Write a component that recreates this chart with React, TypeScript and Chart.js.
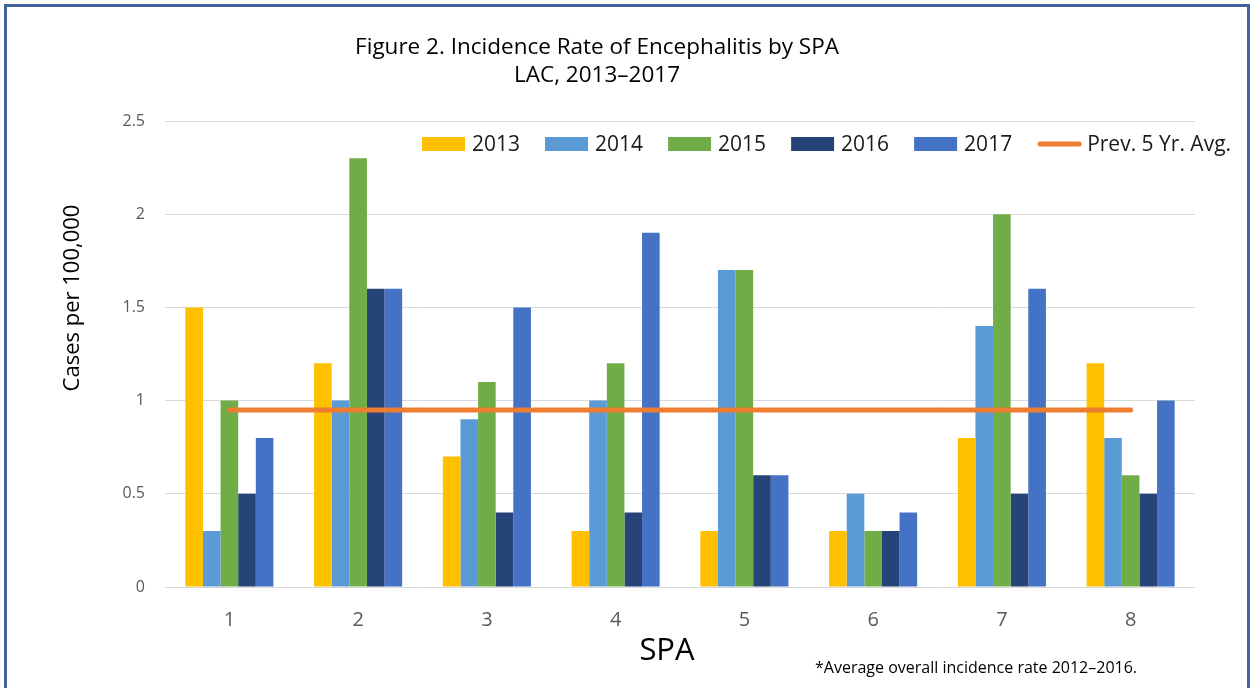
import React, { useEffect, useRef } from "react";
import { Chart, registerables } from "chart.js";

Chart.register(...registerables);

const categories = ["1", "2", "3", "4", "5", "6", "7", "8"];
const yTickLabels = ["0", "0.5", "1", "1.5", "2", "2.5"];
const series2013 = [1.5, 1.2, 0.7, 0.3, 0.3, 0.3, 0.8, 1.2];
const series2014 = [0.3, 1.0, 0.9, 1.0, 1.7, 0.5, 1.4, 0.8];
const series2015 = [1.0, 2.3, 1.1, 1.2, 1.7, 0.3, 2.0, 0.6];
const series2016 = [0.5, 1.6, 0.4, 0.4, 0.6, 0.3, 0.5, 0.5];
const series2017 = [0.8, 1.6, 1.5, 1.9, 0.6, 0.4, 1.6, 1.0];
const prevAvg = [0.95, 0.95, 0.95, 0.95, 0.95, 0.95, 0.95, 0.95];

const barSeries = [
  { label: "2013", data: series2013, color: "#FFC000" },
  { label: "2014", data: series2014, color: "#5B9BD5" },
  { label: "2015", data: series2015, color: "#70AD47" },
  { label: "2016", data: series2016, color: "#264478" },
  { label: "2017", data: series2017, color: "#4472C4" },
];

const titleLines = ["Figure 2. Incidence Rate of Encephalitis by SPA", "LAC, 2013\u20132017"];
const yAxisTitle = "Cases per 100,000";
const xAxisTitle = "SPA";
const footnote = "*Average overall incidence rate 2012\u20132016.";
const FONT = "'Open Sans', 'Liberation Sans', sans-serif";

const decorPlugin = {
  id: "decor",
  afterDraw(chart: any) {
    const ctx = chart.ctx as CanvasRenderingContext2D;
    ctx.save();
    // Title
    ctx.fillStyle = "#000000";
    ctx.textAlign = "center";
    ctx.textBaseline = "middle";
    ctx.font = `22.5px ${FONT}`;
    ctx.fillText(titleLines[0], 597, 48);
    ctx.fillText(titleLines[1], 597, 76);

    // Y axis title
    ctx.save();
    ctx.translate(73, 298);
    ctx.rotate(-Math.PI / 2);
    ctx.font = `22px ${FONT}`;
    ctx.fillText(yAxisTitle, 0, 0);
    ctx.restore();

    // X axis title
    ctx.font = `31px ${FONT}`;
    ctx.fillText(xAxisTitle, 667, 651);

    // Footnote
    ctx.textAlign = "left";
    ctx.font = `16px ${FONT}`;
    ctx.fillText(footnote, 815, 668);

    // Legend
    const items = chart.data.datasets.map((d: any) => ({
      label: d.label,
      color: d.type === "line" ? d.borderColor : d.backgroundColor,
      isLine: d.type === "line",
    }));
    const ordered = [...items.filter((i: any) => !i.isLine), ...items.filter((i: any) => i.isLine)];
    let x = 422;
    const cy = 144;
    ctx.font = `21px ${FONT}`;
    ctx.textBaseline = "middle";
    for (const it of ordered) {
      if (it.isLine) {
        ctx.strokeStyle = it.color;
        ctx.lineWidth = 5;
        ctx.lineCap = "round";
        ctx.beginPath();
        ctx.moveTo(x + 3, cy);
        ctx.lineTo(x + 42, cy);
        ctx.stroke();
      } else {
        ctx.fillStyle = it.color;
        ctx.fillRect(x, cy - 7, 43, 14);
      }
      x += 50;
      ctx.fillStyle = "#1a1a1a";
      ctx.fillText(it.label, x, cy + 1);
      x += ctx.measureText(it.label).width + 25;
    }
    ctx.restore();
  },
};

export default function App() {
  const ref = useRef<HTMLCanvasElement | null>(null);

  useEffect(() => {
    if (!ref.current) return;
    const chart = new Chart(ref.current, {
      type: "bar",
      data: {
        labels: categories,
        datasets: [
          ...barSeries.map((s) => ({
            type: "bar" as const,
            label: s.label,
            data: s.data,
            backgroundColor: s.color,
            borderWidth: 0,
            categoryPercentage: 0.684,
            barPercentage: 1.0,
            order: 1,
          })),
          {
            type: "line" as const,
            label: "Prev. 5 Yr. Avg.",
            data: prevAvg,
            borderColor: "#ED7D31",
            backgroundColor: "#ED7D31",
            borderWidth: 5,
            borderCapStyle: "round" as const,
            pointRadius: 0,
            pointHoverRadius: 0,
            fill: false,
            order: 0,
          },
        ],
      },
      options: {
        responsive: false,
        animation: false,
        layout: { padding: { left: 0, top: 121, right: 55, bottom: 0 } },
        plugins: {
          legend: { display: false },
          title: { display: false },
          tooltip: { enabled: false },
        },
        scales: {
          x: {
            grid: { display: false, drawTicks: false },
            border: { display: false },
            ticks: {
              color: "#595959",
              font: { family: FONT, size: 20 },
              padding: 21,
            },
            afterFit: (scale: any) => {
              scale.height = 101;
            },
          },
          y: {
            min: 0,
            max: 2.5,
            grid: { color: "#d9d9d9", lineWidth: 1, drawTicks: false },
            border: { display: false },
            ticks: {
              stepSize: 0.5,
              color: "#595959",
              font: { family: FONT, size: 16 },
              padding: 20,
              callback: (_v: any, i: number) => yTickLabels[i],
            },
            afterFit: (scale: any) => {
              scale.width = 165;
            },
          },
        },
      },
      plugins: [decorPlugin],
    });
    return () => chart.destroy();
  }, []);

  return (
    <div
      style={{
        position: "absolute",
        left: 0,
        top: 0,
        width: 1250,
        height: 688,
        overflow: "hidden",
        background: "#ffffff",
      }}
    >
      <canvas ref={ref} width={1250} height={688} style={{ display: "block" }} />
      <div
        style={{
          position: "absolute",
          left: 4,
          top: 4,
          width: 1240,
          height: 720,
          border: "3px solid #41649f",
          boxSizing: "content-box",
          pointerEvents: "none",
        }}
      />
    </div>
  );
}
